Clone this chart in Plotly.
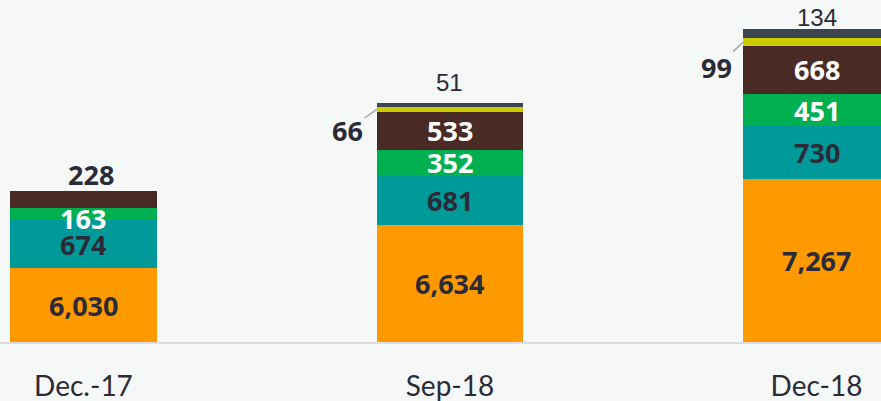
import plotly.graph_objects as go

# ---- data ----
categories = ["Dec.-17", "Sep-18", "Dec-18"]
seg_orange = [6030, 6634, 7267]
seg_teal = [674, 681, 730]
seg_green = [163, 352, 451]
seg_brown = [228, 533, 668]
seg_yellow = [0, 66, 99]
seg_slate = [0, 51, 134]

series = [seg_orange, seg_teal, seg_green, seg_brown, seg_yellow, seg_slate]
colors = ["#ff9900", "#009999", "#00b050", "#4a2a25", "#cccc00", "#3b4550"]
label_colors = ["#2b2b38", "#2b2b38", "#ffffff", "#ffffff", "#2b2b38", "#2b2b38"]

Y_MIN, Y_MAX = 5010, 9747
DARK = "#2b2b38"
BOLD_FONT = "Open Sans"
BG = "#f6f8f8"

x = list(range(len(categories)))
fig = go.Figure()
for vals, col in zip(series, colors):
    fig.add_trace(go.Bar(x=x, y=vals, marker=dict(color=col, line=dict(width=0)),
                         width=0.4, hoverinfo="skip", showlegend=False))

annotations = []
n = len(categories)
for i in range(n):
    base = 0
    for s, vals in enumerate(series):
        v = vals[i]
        lo, hi = base, base + v
        base = hi
        if v == 0:
            continue
        if s == 0:
            ymid = (max(lo, Y_MIN) + hi) / 2
        else:
            ymid = (lo + hi) / 2
        txt = f"{v:,}"
        if s <= 2 or (s == 3 and v > 300):
            yshift = -5 if (s == 2 and v < 200) else 0
            annotations.append(dict(x=i, y=ymid, text=f"<b>{txt}</b>", showarrow=False,
                                    yshift=yshift,
                                    font=dict(family=BOLD_FONT, size=27, color=label_colors[s])))
        elif s == 3:
            annotations.append(dict(x=i, y=hi, text=f"<b>{txt}</b>", showarrow=False,
                                    yanchor="middle", yshift=17, xshift=8,
                                    font=dict(family=BOLD_FONT, size=27, color=DARK)))
        elif s == 4:
            annotations.append(dict(x=i - 0.2, y=ymid, text=f"<b>{txt}</b>", showarrow=True,
                                    arrowhead=0, arrowwidth=1.5, arrowcolor="#9eaaa8",
                                    ax=-29 if i == 1 else -27, ay=21 if i == 1 else 26,
                                    standoff=0, startstandoff=0,
                                    font=dict(family=BOLD_FONT, size=27, color=DARK)))
        else:
            annotations.append(dict(x=i, y=hi, text=txt, showarrow=False,
                                    yanchor="middle", yshift=21 if i == 1 else 11,
                                    font=dict(family="Liberation Sans", size=24, color=DARK)))

fig.update_layout(
    width=881, height=401,
    margin=dict(l=0, r=0, t=0, b=59),
    barmode="stack",
    paper_bgcolor=BG,
    plot_bgcolor=BG,
    annotations=annotations,
    xaxis=dict(range=[-0.2278, 2.176], tickvals=x, ticktext=categories,
               showgrid=False, zeroline=False, showline=True, linecolor="#d9dde2",
               linewidth=2, ticks="", ticklabelstandoff=18,
               tickfont=dict(family="Lato", size=28, color=DARK)),
    yaxis=dict(range=[Y_MIN, Y_MAX], visible=False, showgrid=False, zeroline=False),
)

fig.write_html("out.html", config={"displayModeBar": False},
               post_script="document.body.style.margin='0';document.body.style.background='%s';" % BG)
